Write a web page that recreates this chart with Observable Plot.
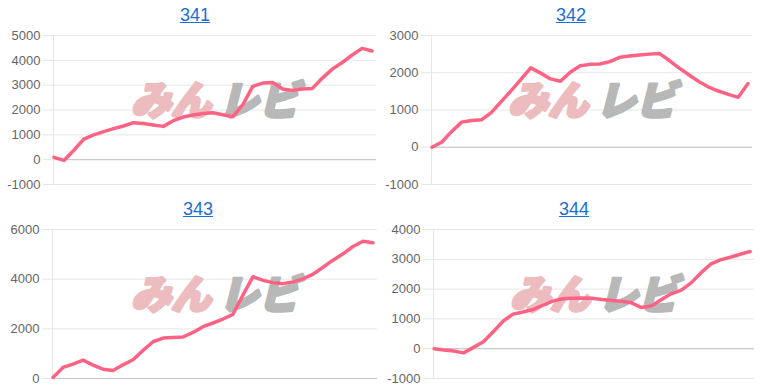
<!DOCTYPE html>
<html><head><meta charset="utf-8">
<script src="https://cdn.jsdelivr.net/npm/d3@7"></script>
<script src="https://cdn.jsdelivr.net/npm/@observablehq/plot@0.6"></script>
<style>
body{margin:0;background:#fff;font-family:"Liberation Sans",Arial,sans-serif;}
#grid{position:relative;width:766px;height:390px;overflow:hidden;}
.cell{position:absolute;width:383px;height:195px;}
.title{position:absolute;top:0;height:25px;width:120px;text-align:center;font-size:18px;line-height:20px;padding-top:5px;box-sizing:border-box;}
.title a{color:#1a6ed8;text-decoration:underline;}
.cell svg{position:absolute;top:25px;left:0;}
</style></head><body><div id="grid"></div>
<script>
// chart titles
const titles = ["341", "342", "343", "344"];
// x positions (sample index along the period)
const days = [0,1,2,3,4,5,6,7,8,9,10,11,12,13,14,15,16,17,18,19,20,21,22,23,24,25,26,27,28,29,30,31,32];
// series values (cumulative balance)
const s341 = [93, -30, 380, 825, 1000, 1130, 1250, 1355, 1490, 1460, 1400, 1340, 1570, 1715, 1795, 1860, 1890, 1810, 1730, 2220, 2950, 3085, 3110, 2845, 2790, 2845, 2870, 3285, 3645, 3910, 4215, 4480, 4375];
const s342 = [0, 140, 425, 675, 720, 735, 930, 1225, 1515, 1820, 2130, 1990, 1835, 1770, 2015, 2190, 2225, 2235, 2300, 2415, 2450, 2475, 2500, 2520, 2335, 2130, 1945, 1765, 1615, 1510, 1420, 1340, 1710];
const s343 = [40, 445, 580, 740, 540, 375, 320, 550, 755, 1130, 1480, 1630, 1655, 1670, 1855, 2085, 2235, 2395, 2585, 3365, 4100, 3950, 3860, 3820, 3890, 4010, 4200, 4480, 4765, 5020, 5315, 5530, 5465];
const s344 = [0, -45, -80, -140, 45, 235, 570, 925, 1160, 1230, 1315, 1450, 1595, 1675, 1695, 1705, 1695, 1650, 1620, 1595, 1540, 1380, 1430, 1640, 1840, 1955, 2200, 2535, 2835, 2980, 3070, 3170, 3260];
// y-axis tick labels per chart
const ticks341 = [-1000, 0, 1000, 2000, 3000, 4000, 5000];
const ticks342 = [-1000, 0, 1000, 2000, 3000];
const ticks343 = [0, 2000, 4000, 6000];
const ticks344 = [-1000, 0, 1000, 2000, 3000, 4000];

const panels = [
  {title: titles[0], values: s341, ticks: ticks341, left: 0, top: 0, titleCenter: 195, mL: 53, mR: 7},
  {title: titles[1], values: s342, ticks: ticks342, left: 383, top: 0, titleCenter: 188, mL: 48, mR: 14},
  {title: titles[2], values: s343, ticks: ticks343, left: 0, top: 194, titleCenter: 198, mL: 52, mR: 6},
  {title: titles[3], values: s344, ticks: ticks344, left: 383, top: 194, titleCenter: 191, mL: 50, mR: 12}
];

const grid = document.getElementById("grid");
const xDomain = [-0.05, 32.45];
for (const p of panels) {
  const cell = document.createElement("div");
  cell.className = "cell";
  cell.style.left = p.left + "px";
  cell.style.top = p.top + "px";
  const t = document.createElement("div");
  t.className = "title";
  t.style.left = (p.titleCenter - 60) + "px";
  const a = document.createElement("a");
  a.href = "#";
  a.textContent = p.title;
  t.appendChild(a);
  cell.appendChild(t);
  const data = days.map((d, i) => ({d, v: p.values[i]}));
  const yDomain = [p.ticks[0], p.ticks[p.ticks.length - 1]];
  const chart = Plot.plot({
    width: 383,
    height: 170,
    marginTop: 10,
    marginBottom: 11,
    marginLeft: p.mL,
    marginRight: p.mR,
    style: {fontFamily: "'Liberation Sans', Arial, sans-serif", background: "transparent"},
    x: {domain: xDomain, axis: null},
    y: {domain: yDomain, ticks: p.ticks},
    marks: [
      Plot.gridY(p.ticks, {stroke: "#e6e6e6", strokeOpacity: 1}),
      Plot.axisY(p.ticks, {tickSize: 10, tickPadding: 3, stroke: "#e6e6e6", strokeOpacity: 1, fill: "#666", fontSize: 13, label: null, tickFormat: d => String(d)}),
      Plot.ruleY([0], {stroke: "#c4c4c4"}),
      Plot.ruleX([xDomain[0]], {stroke: "#e6e6e6"}),
      Plot.text(["みん"], {text: d => d, frameAnchor: "middle", dx: -44, dy: -8, fill: "#ecbcbe", stroke: "#ecbcbe", strokeWidth: 3, fontSize: 40, fontWeight: 900, fontStyle: "italic", fontFamily: "Noto Sans CJK JP"}),
      Plot.text(["レビ"], {text: d => d, frameAnchor: "middle", dx: 44, dy: -8, fill: "#b8b8b8", stroke: "#b8b8b8", strokeWidth: 3, fontSize: 40, fontWeight: 900, fontStyle: "italic", fontFamily: "Noto Sans CJK JP"}),
      Plot.line(data, {x: "d", y: "v", stroke: "#ff6384", strokeWidth: 3.5, strokeLinejoin: "round", strokeLinecap: "round"})
    ]
  });
  cell.appendChild(chart);
  grid.appendChild(cell);
}
</script>
</body></html>
